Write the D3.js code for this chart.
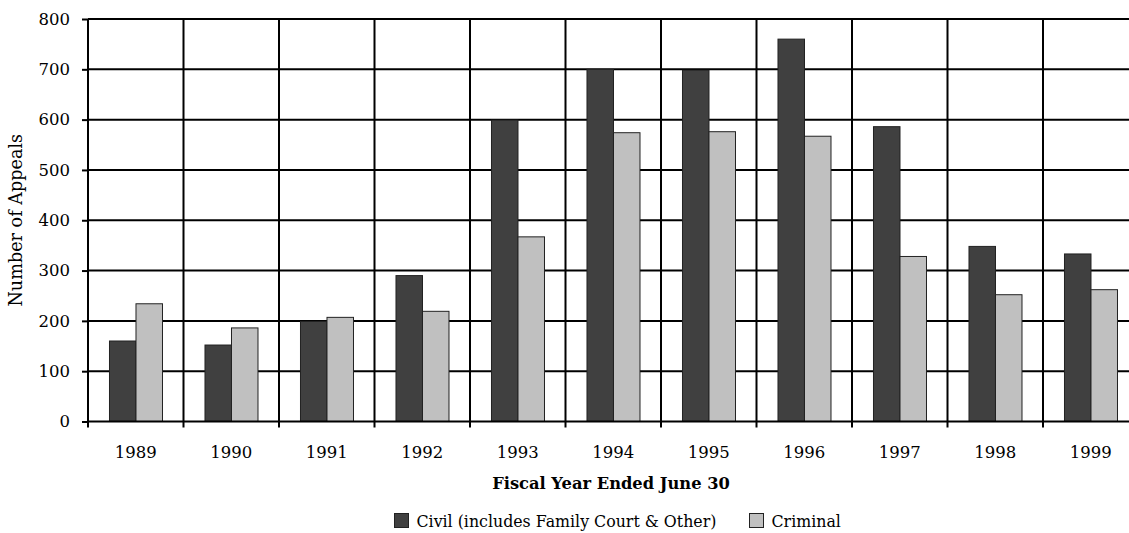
<!DOCTYPE html>
<html>
<head>
<meta charset="utf-8">
<script src="https://cdn.jsdelivr.net/npm/d3@7"></script>
<style>
  html, body { margin: 0; padding: 0; background: #fff; }
  svg { display: block; }
  text { font-family: "DejaVu Serif", serif; fill: #000; }
</style>
</head>
<body>
<svg id="chart" width="1129" height="533"></svg>
<script>
const years = ["1989","1990","1991","1992","1993","1994","1995","1996","1997","1998","1999"];
const civil = [160, 152, 199, 290, 599, 700, 698, 760, 586, 348, 333];
const criminal = [234, 186, 207, 219, 367, 574, 576, 567, 328, 252, 262];
const seriesNames = ["Civil (includes Family Court & Other)", "Criminal"];
const yTicks = [0, 100, 200, 300, 400, 500, 600, 700, 800];

(function () {
const colors = ["#404040", "#c0c0c0"];
const svg = d3.select("#chart");
const pL = 88, pR = 1138.5, pT = 19, pB = 421.5;

const x0 = d3.scaleBand().domain(years).range([pL, pR]).padding(0);
const keys = ["civil", "criminal"];
const bw = x0.bandwidth();
const x1 = d3.scaleBand().domain(keys).range([bw * 0.225, bw * 0.78]).padding(0);
const y = d3.scaleLinear().domain([0, 800]).range([pB, pT]);

const data = years.map((yr, i) => ({ year: yr, civil: civil[i], criminal: criminal[i] }));

// gridlines horizontal
svg.append("g").selectAll("line").data(yTicks.filter(t => t > 0)).join("line")
  .attr("x1", pL).attr("x2", pR)
  .attr("y1", d => y(d)).attr("y2", d => y(d))
  .attr("stroke", "#000").attr("stroke-width", 2);

// gridlines vertical
const vlines = years.map(yr => x0(yr)).concat([pR]);
svg.append("g").selectAll("line").data(vlines).join("line")
  .attr("x1", d => d).attr("x2", d => d)
  .attr("y1", pT).attr("y2", pB)
  .attr("stroke", "#000").attr("stroke-width", 2);

// bars
const groups = svg.append("g").selectAll("g").data(data).join("g")
  .attr("transform", d => `translate(${x0(d.year)},0)`);
groups.selectAll("rect").data(d => keys.map((k, i) => ({ key: k, value: d[k], i })))
  .join("rect")
  .attr("x", d => x1(d.key))
  .attr("width", x1.bandwidth())
  .attr("y", d => y(d.value))
  .attr("height", d => y(0) - y(d.value))
  .attr("fill", d => colors[d.i])
  .attr("stroke", "#222")
  .attr("stroke-width", 1);

// y axis
const yAxis = d3.axisLeft(y).tickValues(yTicks).tickSize(6).tickPadding(12).tickFormat(d3.format("d"));
const gy = svg.append("g").attr("transform", `translate(${pL},0)`).call(yAxis);
gy.select(".domain").attr("stroke", "#000").attr("stroke-width", 2).attr("d", `M0,${pT}V${pB}`);
gy.selectAll(".tick line").attr("stroke", "#000").attr("stroke-width", 2);
gy.selectAll(".tick text").style("font-family", "DejaVu Serif").style("font-size", "16.5px").attr("fill", "#000");

// x axis
const gx = svg.append("g").attr("transform", `translate(0,${pB})`)
  .call(d3.axisBottom(x0).tickSize(0).tickPadding(25));
gx.select(".domain").attr("stroke", "#000").attr("stroke-width", 2).attr("d", `M${pL},0H${pR}`);
gx.selectAll(".tick text").style("font-family", "DejaVu Serif").style("font-size", "16.5px").attr("fill", "#000");
// tick marks at band boundaries
svg.append("g").selectAll("line").data(vlines).join("line")
  .attr("x1", d => d).attr("x2", d => d)
  .attr("y1", pB).attr("y2", pB + 6)
  .attr("stroke", "#000").attr("stroke-width", 2);

// axis titles
svg.append("text").attr("x", 611).attr("y", 489)
  .attr("text-anchor", "middle").style("font-size", "16.3px").style("font-weight", "bold")
  .text("Fiscal Year Ended June 30");
svg.append("text").attr("transform", `translate(22,${(pT + pB) / 2}) rotate(-90)`)
  .attr("text-anchor", "middle").style("font-size", "17.6px")
  .text("Number of Appeals");

// legend
const legendItems = [{ name: seriesNames[0], x: 394.5 }, { name: seriesNames[1], x: 749.5 }];
const lg = svg.append("g").selectAll("g").data(legendItems).join("g")
  .attr("transform", d => `translate(${d.x},513.5)`);
lg.append("rect").attr("width", 14).attr("height", 14)
  .attr("fill", (d, i) => colors[i]).attr("stroke", "#222").attr("stroke-width", 1);
lg.append("text").attr("x", 22).attr("y", 13.5).style("font-size", "15.8px").text(d => d.name);
})();
</script>
</body>
</html>
